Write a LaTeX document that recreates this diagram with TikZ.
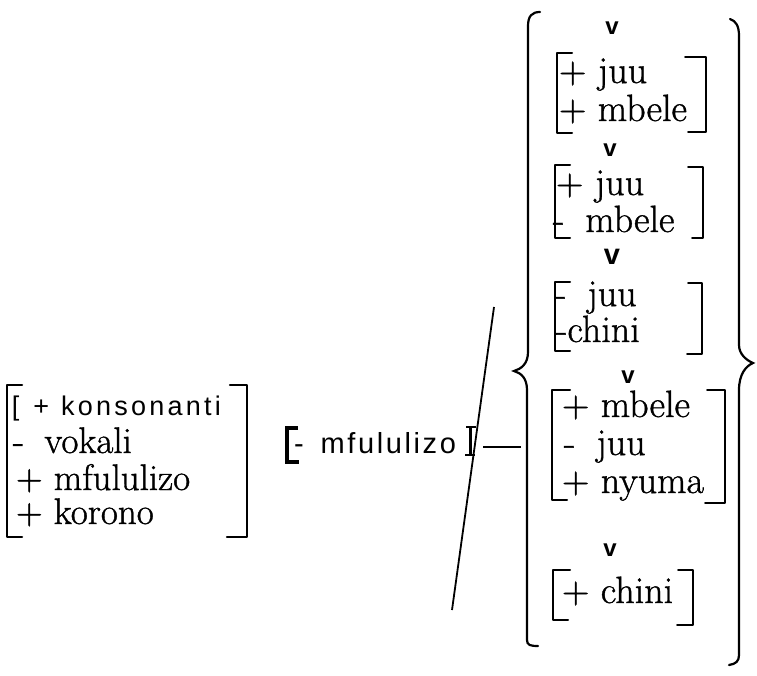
\documentclass[tikz,border=0pt]{standalone}
\usepackage{fontspec}
\newfontfamily\rmx{Latin Modern Roman}[FakeBold=1.0]
\newfontfamily\sansf{Liberation Sans}
\newfontfamily\konsf[LetterSpace=12]{Liberation Sans}
\newfontfamily\midf[LetterSpace=9]{Liberation Sans}
\newcommand\mi[1]{\makebox[0.85em][l]{-}#1}
\tikzset{
  ln/.style={inner sep=0pt, outer sep=0pt, anchor=base west, font=\rmx\fontsize{38}{39}\selectfont},
  lnl/.style={inner sep=0pt, outer sep=0pt, anchor=base west, font=\rmx\fontsize{37}{38}\selectfont},
  konsl/.style={inner sep=0pt, outer sep=0pt, anchor=base west, font=\konsf\fontsize{27}{28}\selectfont},
  midl/.style={inner sep=0pt, outer sep=0pt, anchor=base west, font=\midf\fontsize{29}{30}\selectfont},
  vee/.style={inner sep=0pt, font=\sansf\bfseries\fontsize{24}{24}\selectfont},
  veeb/.style={inner sep=0pt, font=\sansf\bfseries\fontsize{29}{29}\selectfont},
  brk/.style={line width=2pt, line cap=round, line join=round},
  bigbrk/.style={line width=2.5pt, line cap=round, line join=round},
  thickbrk/.style={line width=3.5pt},
  bracestyle/.style={line width=2.2pt, line cap=round},
  conn/.style={line width=2pt},
  slash/.style={line width=1.8pt}
}
\begin{document}
\begin{tikzpicture}[x=1pt,y=-1pt]
\useasboundingbox (0,0) rectangle (757,676);
\fill[white] (0,0) rectangle (757,676);

% ---- left feature box ----
\draw[bigbrk] (22,385) -- (7,385) -- (7,537) -- (22,537);
\draw[bigbrk] (230,385) -- (247,385) -- (247,537) -- (227,537);
\node[konsl] (kons) at (12,415) {[\hspace{14pt}+\hspace{12pt}konsonanti};
\node[lnl] (vok) at (13,453) {\mi{vokali}};
\node[lnl] (mfu) at (16,490) {+ mfululizo};
\node[lnl] (kor) at (16,524) {+ korono};

% ---- middle ----
\draw[thickbrk] (298,428) -- (287,428) -- (287,462) -- (299,462);
\node[midl] (mid) at (294,453) {-\hspace{17pt}mfululizo};
\draw[thickbrk] (470.5,427) -- (470.5,455);
\draw[line width=2.5pt] (466,427) -- (476,427);
\draw[line width=2.5pt] (465,455) -- (475,455);
\coordinate (c1) at (483,447);
\coordinate (c2) at (521,447);
\draw[conn] (c1) -- (c2);

% ---- slash ----
\coordinate (s1) at (494,307);
\coordinate (s2) at (452,610);
\draw[slash] (s1) -- (s2);

% ---- big braces ----
\draw[bracestyle] (540,12) .. controls (532,12) and (528,16) .. (528,26)
  -- (528,352) .. controls (528,364) and (521,369) .. (514,371)
  .. controls (521,373) and (527,378) .. (527,390)
  -- (527,640) .. controls (527,645) and (530,646) .. (538,646);
\draw[bracestyle] (730,19) .. controls (736,21) and (739,26) .. (739,36)
  -- (739,345) .. controls (739,354) and (746,360) .. (753,363)
  .. controls (746,366) and (739,374) .. (739,390)
  -- (739,655) .. controls (739,661) and (736,664) .. (729,665);

% ---- options ----
\node[vee] (v1) at (612,28) {v};
\draw[brk] (572,53) -- (557,53) -- (557,133) -- (572,133);
\draw[brk] (685,57) -- (706,57) -- (706,132) -- (688,132);
\node[ln] (b1a) at (559,83) {+ juu};
\node[ln] (b1b) at (559,121) {+ mbele};

\node[vee] (v2) at (610,150) {v};
\draw[brk] (570,165) -- (555,165) -- (555,238) -- (570,238);
\draw[brk] (688,167) -- (703,167) -- (703,238) -- (692,238);
\node[ln] (b2a) at (556,195) {+ juu};
\node[ln] (b2b) at (553,232) {\mi{mbele}};

\node[veeb] (v3) at (612,257) {v};
\draw[brk] (570,282) -- (555,282) -- (555,351) -- (570,351);
\draw[brk] (688,283) -- (702,283) -- (702,354) -- (687,354);
\node[ln] (b3a) at (555,306) {\mi{juu}};
\node[ln] (b3b) at (556,342) {-chini};

\node[vee] (v4) at (628,377) {v};
\draw[brk] (570,390) -- (552,390) -- (552,500) -- (567,500);
\draw[brk] (707,390) -- (725,390) -- (725,503) -- (705,503);
\node[ln] (b4a) at (562,417) {+ mbele};
\node[ln] (b4b) at (564,455) {\mi{juu}};
\node[ln] (b4c) at (562,493) {+ nyuma};

\node[vee] (v5) at (610,550) {v};
\draw[brk] (570,570) -- (553,570) -- (553,620) -- (568,620);
\draw[brk] (678,570) -- (693,570) -- (693,625) -- (677,625);
\node[ln] (b5a) at (562,603) {+ chini};
\end{tikzpicture}
\end{document}
